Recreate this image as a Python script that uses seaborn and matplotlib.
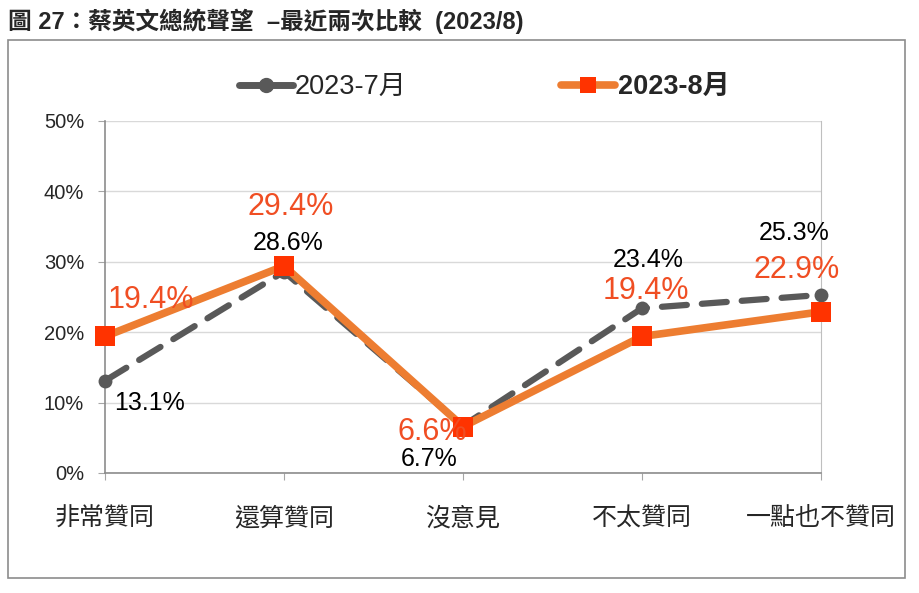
import pandas as pd
import numpy as np
import matplotlib.pyplot as plt
import seaborn as sns
from matplotlib.patches import Rectangle
from matplotlib.lines import Line2D

# data
categories = ['非常贊同', '還算贊同', '沒意見', '不太贊同', '一點也不贊同']
jul_2023 = [13.1, 28.6, 6.7, 23.4, 25.3]
aug_2023 = [19.4, 29.4, 6.6, 19.4, 22.9]
series_names = ['2023-7月', '2023-8月']
yticks = [0, 10, 20, 30, 40, 50]

gray = '#595959'
orange_line = '#ED7D31'
orange_mark = '#FF3300'
orange_text = '#F04E23'

sns.set_style('white')
plt.rcParams['font.family'] = ['Liberation Sans', 'Noto Sans CJK TC', 'DejaVu Sans']

fig = plt.figure(figsize=(9.2, 5.93), dpi=100)
ax = fig.add_axes([105 / 920, 1 - 473 / 593, (821 - 105) / 920, (473 - 121) / 593])

x = np.arange(len(categories))
df = pd.DataFrame({'x': np.concatenate([x, x]),
                   'v': jul_2023 + aug_2023,
                   's': [series_names[0]] * 5 + [series_names[1]] * 5})

sns.lineplot(data=df[df.s == series_names[0]], x='x', y='v', ax=ax, sort=False,
             color=gray, lw=4.5, marker='o', markersize=10,
             markeredgewidth=0, zorder=3, clip_on=False)
ax.lines[-1].set_dashes([4, 2.4])
ax.lines[-1].set_dash_capstyle('round')
sns.lineplot(data=df[df.s == series_names[1]], x='x', y='v', ax=ax, sort=False,
             color=orange_line, lw=5.5, marker='s', markersize=14,
             markerfacecolor=orange_mark, markeredgewidth=0, zorder=4, clip_on=False)

ax.set_xlim(0, 4)
ax.set_ylim(0, 50)
ax.set_yticks(yticks)
ax.set_yticklabels([f'{t}%' for t in yticks], fontsize=14.5)
ax.set_xticks(x)
ax.set_xticklabels(categories, fontsize=18)
ax.set_xlabel('')
ax.set_ylabel('')
ax.tick_params(axis='x', pad=19, length=5, color='#A6A6A6', direction='out', bottom=True)
ax.tick_params(axis='y', pad=10, length=5, color='#A6A6A6', direction='out', left=True)
ax.yaxis.grid(True, color='#D9D9D9', lw=1)
for side in ['left', 'bottom']:
    ax.spines[side].set_color('#8C8C8C')
    ax.spines[side].set_linewidth(1.2)
ax.spines['top'].set_visible(False)
ax.spines['right'].set_color('#BFBFBF')

# data labels (offsets in pixels)
jul_off = [(44, -22), (4, 29), (-34, -33), (6, 48), (-27, 62)]
aug_off = [(46, 36), (7, 59), (-31, -5), (4, 45), (-24, 42)]
for i in range(len(categories)):
    ax.annotate(f'{jul_2023[i]}%', (x[i], jul_2023[i]), xytext=jul_off[i],
                textcoords='offset pixels', ha='center', va='center',
                fontsize=18, color='black', zorder=5)
    ax.annotate(f'{aug_2023[i]}%', (x[i], aug_2023[i]), xytext=aug_off[i],
                textcoords='offset pixels', ha='center', va='center',
                fontsize=22, color=orange_text, zorder=5)

# legend
handles = [Line2D([], [], color=gray, lw=5, marker='o', markersize=10,
                  solid_capstyle='round'),
           Line2D([], [], color=orange_line, lw=5.5, marker='s', markersize=12,
                  markerfacecolor=orange_mark, markeredgewidth=0)]
leg = fig.legend(handles, series_names, loc='center',
                 bbox_to_anchor=(484 / 920, 1 - 87 / 593),
                 ncol=2, frameon=False, fontsize=19.5, handlelength=2.0,
                 handletextpad=0.08, columnspacing=5.7)
leg.get_texts()[1].set_fontweight('bold')

# outer frame and title
fig.patches.append(Rectangle((8 / 920, 1 - 578 / 593), (905 - 8) / 920, (578 - 40) / 593,
                             transform=fig.transFigure, fill=False,
                             edgecolor='#8C8C8C', lw=1.2))
fig.text(8 / 920, 1 - 21 / 593, '圖 27：蔡英文總統聲望  –最近兩次比較  (2023/8)',
         fontsize=17, fontweight='bold', ha='left', va='center')

fig.savefig('out.png', dpi=100)
